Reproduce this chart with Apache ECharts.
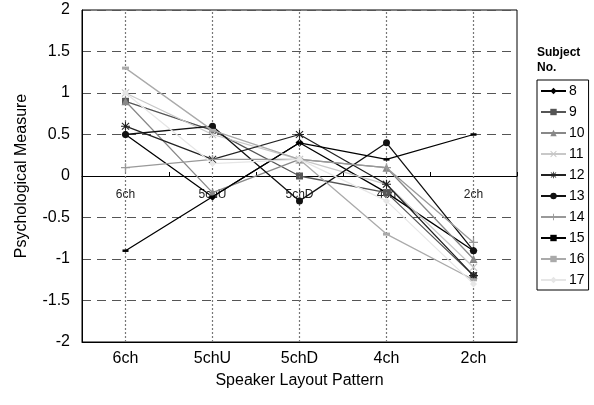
<!DOCTYPE html>
<html>
<head>
<meta charset="utf-8">
<script src="https://cdn.jsdelivr.net/npm/echarts@6/dist/echarts.min.js"></script>
<style>html,body{margin:0;padding:0;background:#fff}#c{width:594px;height:405px}</style>
</head>
<body>
<div id="c"></div>
<script>
var categories = ['6ch', '5chU', '5chD', '4ch', '2ch'];
var yTicks = [-2, -1.5, -1, -0.5, 0, 0.5, 1, 1.5, 2];
var subjects = ['8', '9', '10', '11', '12', '13', '14', '15', '16', '17'];
var s8  = [0.5, -0.25, 0.4, -0.2, -0.9];
var s9  = [0.9, 0.55, 0.0, -0.2, -1.2];
var s10 = [0.9, -0.2, 0.2, 0.1, -1.0];
var s11 = [1.0, 0.5, 0.2, -0.1, -1.1];
var s12 = [0.6, 0.2, 0.5, -0.1, -1.2];
var s13 = [0.5, 0.6, -0.3, 0.4, -0.9];
var s14 = [0.1, 0.2, 0.2, 0.1, -0.8];
var s15 = [-0.9, -0.25, 0.4, 0.2, 0.5];
var s16 = [1.3, 0.55, 0.2, -0.7, -1.25];
var s17 = [1.0, 0.15, 0.2, -0.3, -1.3];

var PLUS = 'path://M4.3,0 L5.7,0 L5.7,4.3 L10,4.3 L10,5.7 L5.7,5.7 L5.7,10 L4.3,10 L4.3,5.7 L0,5.7 L0,4.3 L4.3,4.3 Z';
var CROSS = 'path://M1,0 L5,4 L9,0 L10,1 L6,5 L10,9 L9,10 L5,6 L1,10 L0,9 L4,5 L0,1 Z';
var STAR = 'path://M4.4,0 L5.6,0 L5.6,3.6 L8.6,0.8 L9.4,1.6 L6.4,4.4 L10,4.4 L10,5.6 L6.4,5.6 L9.4,8.4 L8.6,9.2 L5.6,6.4 L5.6,10 L4.4,10 L4.4,6.4 L1.4,9.2 L0.6,8.4 L3.6,5.6 L0,5.6 L0,4.4 L3.6,4.4 L0.6,1.6 L1.4,0.8 L4.4,3.6 Z';

var styles = [
  {d: s8,  c: '#000000', sym: 'diamond', size: 8},
  {d: s9,  c: '#555555', sym: 'rect', size: 7},
  {d: s10, c: '#888888', sym: 'triangle', size: 8},
  {d: s11, c: '#c8c8c8', sym: CROSS, size: 8},
  {d: s12, c: '#222222', sym: STAR, size: 9},
  {d: s13, c: '#111111', sym: 'circle', size: 7},
  {d: s14, c: '#999999', sym: PLUS, size: 9},
  {d: s15, c: '#000000', sym: 'rect', size: [6, 2.5]},
  {d: s16, c: '#aaaaaa', sym: 'rect', size: [7, 3]},
  {d: s17, c: '#e6e6e6', sym: 'diamond', size: 7}
];

var series = [{
  type: 'line', data: [], silent: true, z: 1,
  markLine: {
    silent: true, symbol: ['none', 'none'], label: {show: false},
    lineStyle: {color: '#777', type: [2, 2], width: 1.2},
    data: categories.map(function (c) { return {xAxis: c}; })
  }
}];
styles.forEach(function (s, i) {
  series.push({
    name: subjects[i], type: 'line', data: s.d, z: 3 + i,
    symbol: s.sym, symbolSize: s.size, showAllSymbol: true,
    lineStyle: {color: s.c, width: 1.3},
    itemStyle: {color: s.c},
    emphasis: {disabled: true}
  });
});

var chart = echarts.init(document.getElementById('c'), null, {renderer: 'canvas'});
chart.setOption({
  animation: false,
  backgroundColor: '#fff',
  textStyle: {fontFamily: 'Liberation Sans, Arial, sans-serif'},
  grid: {left: 82, top: 10, right: 77, bottom: 63, show: true, borderColor: '#000', borderWidth: 1},
  xAxis: [{
    type: 'category', data: categories, position: 'bottom',
    axisLine: {onZero: false, lineStyle: {color: '#000'}},
    axisTick: {show: false},
    axisLabel: {fontSize: 16, color: '#000', margin: 9},
    splitLine: {show: false},
    name: 'Speaker Layout Pattern', nameLocation: 'middle', nameGap: 31,
    nameTextStyle: {fontSize: 16, color: '#000'}
  }, {
    type: 'category', data: categories, position: 'bottom', offset: -166,
    axisLine: {onZero: false, lineStyle: {color: '#000', width: 1}},
    axisTick: {show: true, inside: true, length: 4, lineStyle: {color: '#000'}},
    axisLabel: {fontSize: 12, color: '#222', margin: 13},
    splitLine: {show: false}
  }],
  yAxis: {
    type: 'value', min: yTicks[0], max: yTicks[yTicks.length - 1], interval: 0.5,
    axisLine: {show: true, lineStyle: {color: '#000'}},
    axisTick: {show: false},
    axisLabel: {fontSize: 16, color: '#000', margin: 12},
    splitLine: {show: true, lineStyle: {color: '#555', type: [9, 6], width: 1.2}},
    name: 'Psychological Measure', nameLocation: 'middle', nameGap: 52, nameRotate: 90,
    nameTextStyle: {fontSize: 16, color: '#000'}
  },
  legend: {
    data: subjects, orient: 'vertical', left: 537, top: 80,
    itemWidth: 25, itemHeight: 8, itemGap: 7,
    padding: [4, 4, 3, 3],
    borderColor: '#000', borderWidth: 1,
    textStyle: {fontSize: 14, lineHeight: 14, height: 14, color: '#000', padding: [0, 0, 0, -2]},
    selectedMode: false
  },
  graphic: [{
    type: 'text', left: 537, top: 45,
    style: {text: 'Subject\nNo.', font: 'bold 12px Liberation Sans, Arial, sans-serif', fill: '#000', lineHeight: 15}
  }],
  series: series
});
</script>
</body>
</html>
